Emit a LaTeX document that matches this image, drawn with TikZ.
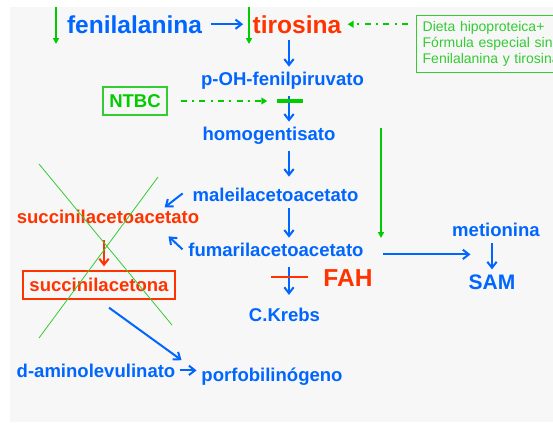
\documentclass[tikz,border=0pt]{standalone}
\usepackage{fontspec}
\setmainfont{Liberation Sans}
\usepackage{xcolor}
\usetikzlibrary{arrows.meta, positioning}

\definecolor{pathblue}{RGB}{0,102,255}
\definecolor{pathred}{RGB}{255,51,0}
\definecolor{pathgreen}{RGB}{0,204,0}
\definecolor{crossgreen}{RGB}{51,204,51}
\definecolor{bggray}{RGB}{247,247,247}

\tikzset{
  big/.style={font=\fontsize{18.4}{22}\selectfont\bfseries, inner sep=2pt, anchor=base},
  met/.style={font=\fontsize{13.9}{16}\selectfont\bfseries, text=pathblue, inner sep=2pt, anchor=base},
  flow/.style={-{Straight Barb[length=4.5pt, width=7pt]}, pathblue, line width=1.5pt, shorten <=3pt, shorten >=1.5pt},
  rflow/.style={-{Straight Barb[length=4.5pt, width=7pt]}, pathred, line width=1.5pt},
  gflow/.style={-{Triangle[length=4.5pt, width=4.5pt]}, pathgreen, line width=1.5pt},
  gdashdot/.style={-{Triangle[length=4.5pt, width=5pt]}, pathgreen, line width=1.5pt,
    dash pattern=on 4.5pt off 4pt on 1.5pt off 4pt},
  gbar/.style={pathgreen, line width=2.5pt},
  rbar/.style={pathred, line width=2pt},
  cross/.style={crossgreen, line width=0.6pt},
  gbox/.style={draw=crossgreen, line width=1pt, text=pathgreen, minimum width=48pt, minimum height=21pt,
    inner sep=0pt, font=\fontsize{13.9}{16}\selectfont\bfseries},
  rbox/.style={draw=pathred, line width=1pt, text=pathred, minimum width=114pt, minimum height=21pt,
    inner sep=0pt, font=\fontsize{13.9}{16}\selectfont\bfseries},
  dietbox/.style={draw=crossgreen, line width=1pt, text=crossgreen, anchor=north west, align=left,
    text width=112pt, inner sep=4.5pt, font=\fontsize{10.5}{12}\selectfont}
}

\begin{document}
\begin{tikzpicture}[x=0.75pt, y=-0.75pt]
        % fondo
        \clip (0,0) rectangle (553,422);
        \fill[white] (0,0) rectangle (553,422);
        \fill[bggray] (10,7) rectangle (553,422);
        \coordinate (axis) at (289,0);
        \coordinate (raxis) at (104,0);

        % fenilalanina -> tirosina
        \node[big, text=pathblue] (fen) at (134.5,33) {fenilalanina};
        \node[big, text=pathred] (tir) at (297,33) {tirosina};
        \draw[flow, shorten <=4.5pt, shorten >=5pt] (fen.east) -- (tir.west);
        \coordinate (g1a) at (56,7);
        \coordinate (g1b) at (56,44);
        \draw[gflow] (g1a) -- (g1b);
        \coordinate (g2a) at (249,7);
        \coordinate (g2b) at (249,44);
        \draw[gflow] (g2a) -- (g2b);

        % dieta
        \node[dietbox] (dieta) at (416,15) {Dieta hipoproteica+\\Fórmula especial sin\\Fenilalanina y tirosina};
        \draw[gdashdot, shorten <=6pt, shorten >=2.5pt] (dieta.west |- tir.east) -- (tir.east);

        % ruta principal
        \node[met] (poh) at (282.5,85) {p-OH-fenilpiruvato};
        \node[met] (homog) at (269,140) {homogentisato};
        \node[met] (male) at (275.5,201) {maleilacetoacetato};
        \node[met] (fuma) at (276,256) {fumarilacetoacetato};
        \node[met] (krebs) at (284.5,321) {C.Krebs};
        \draw[flow] (tir.south -| axis) -- (poh.north -| axis);
        \draw[flow] (poh.south -| axis) -- (homog.north -| axis);
        \draw[flow, shorten >=6pt] (homog.south -| axis) -- (male.north -| axis);
        \draw[flow] (male.south -| axis) -- (fuma.north -| axis);
        \draw[flow, shorten <=6pt, shorten >=7.3pt] (fuma.south -| axis) -- (krebs.north -| axis);

        % NTBC
        \node[gbox] (ntbc) at (135,101) {NTBC};
        \coordinate (blk1) at (290,101);
        \draw[gdashdot, shorten <=9.75pt, shorten >=17pt] (ntbc.east) -- (blk1);
        \draw[gbar] (277,101) -- (303,101);

        % FAH
        \node[big, text=pathred] (fah) at (348,286) {FAH};
        \draw[rbar] (271,277) -- (308,277);

        % metionina
        \coordinate (g3a) at (381,128);
        \coordinate (g3b) at (381,238);
        \draw[gflow] (g3a) -- (g3b);
        \node[met] (meti) at (496,236) {metionina};
        \node[met, font=\fontsize{15.75}{18}\selectfont\bfseries] (sam) at (492,289) {SAM};
        \draw[flow, shorten <=0pt, shorten >=0pt] ([shift={(17,5)}]fuma.east) -- ++(87,0);
        \draw[flow] (meti.south -| sam.north) -- (sam.north);

        % succinilacetoacetato
        \node[met, text=pathred] (sacac) at (108,223) {succinilacetoacetato};
        \draw[flow, shorten <=0pt, shorten >=0pt] ([shift={(-7,-1)}]male.west) -- ++(-18,14);
        \draw[flow, shorten <=0pt, shorten >=0pt] ([shift={(-3,0)}]fuma.west) -- ++(-14,-13);
        \node[rbox] (sacna) at (99,285) {succinilacetona};
        \draw[rflow, shorten <=10.5pt, shorten >=3pt] (sacac.south -| raxis) -- (sacna.north -| raxis);
        \draw[cross] (39,164) -- (172,325);
        \draw[cross] (158,177) -- (39,338);

        % porfobilinogeno
        \node[met] (amino) at (96,377) {d-aminolevulinato};
        \node[met] (porfo) at (272,381) {porfobilinógeno};
        \draw[flow, shorten <=1.5pt] (amino.east) -- (amino.east -| porfo.west);
        \draw[flow, shorten <=0pt, shorten >=0pt] ([shift={(10,8)}]sacna.south) -- ([shift={(-17,-16)}]porfo.west);
      \end{tikzpicture}
\end{document}
